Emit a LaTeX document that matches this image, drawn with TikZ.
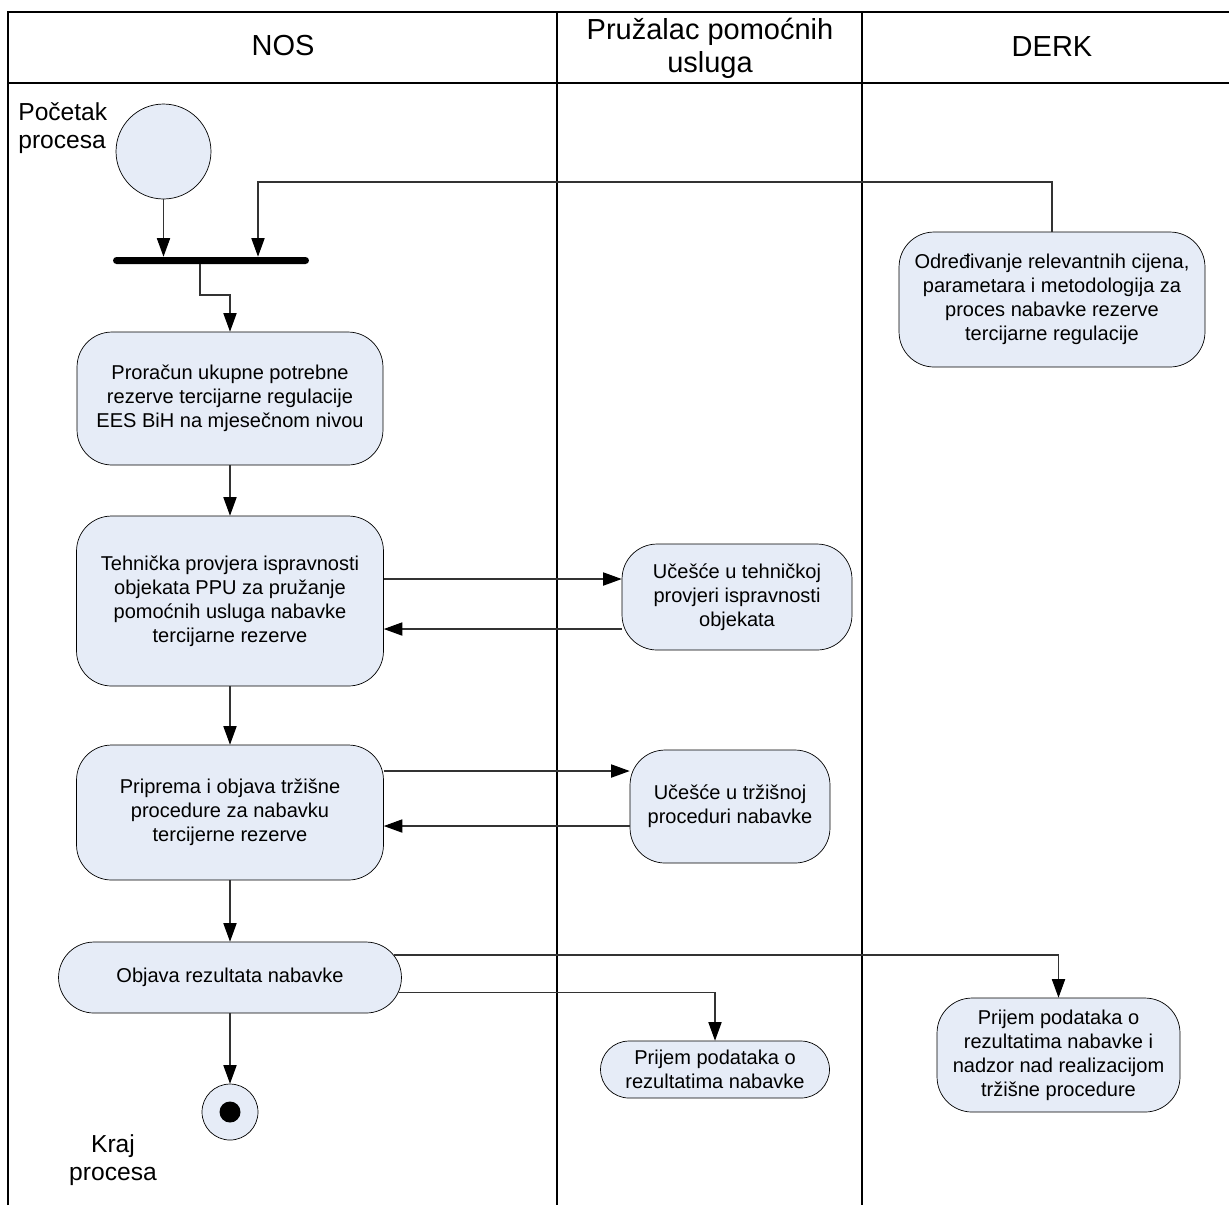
\documentclass[tikz,border=0pt]{standalone}
\usepackage{fontspec}
\setmainfont{Liberation Sans}
\usepackage{xcolor}
\usetikzlibrary{arrows.meta,calc}

\definecolor{actblue}{RGB}{230,236,247}

\begin{document}
\begin{tikzpicture}[x=0.02cm, y=-0.02cm,
  lane/.style={line width=1.6pt},
  act/.style={draw, fill=actblue, rounded corners=0.7cm, align=center, inner sep=0pt, font=\fontsize{11.4}{13.6}\selectfont},
  flow/.style={draw=black!80, line width=0.6pt, -{Triangle[length=10.5pt,width=7.5pt,color=black]}},
  head/.style={align=center, font=\fontsize{16.5}{18.7}\selectfont},
  lbl/.style={align=center, inner sep=0pt, font=\fontsize{14}{16.2}\selectfont}]

\useasboundingbox (0,0) rectangle (1229,1205);

% swimlanes
\draw[lane] (8,1205) -- (8,12) -- (1229,12);
\draw[lane] (8,83) -- (1229,83);
\draw[lane] (557,12) -- (557,1205);
\draw[lane] (862,12) -- (862,1205);

\node[head] (nos) at (283,46) {NOS};
\node[head] (ppu) at (710,48) {Pružalac pomoćnih\\usluga};
\node[head] (derkh) at (1052,47) {DERK};

% start, fork, end
\node[draw, circle, fill=actblue, minimum size=1.9cm, inner sep=0pt] (start) at (163.5,151.5) {};
\node[lbl, anchor=west, align=left] (startlbl) at (18,128) {Početak\\procesa};
\node[fill=black, rounded corners=0.07cm, minimum width=3.92cm, minimum height=0.14cm, inner sep=0pt] (fork) at (211,260.5) {};
\node[draw, circle, fill=actblue, minimum size=1.12cm, inner sep=0pt] (stop) at (230,1112) {};
\node[circle, fill=black, minimum size=0.42cm, inner sep=0pt] (stopdot) at (stop) {};
\node[lbl] (stoplbl) at (113,1160) {Kraj\\procesa};

% NOS
\node[act, minimum width=6.12cm, minimum height=2.66cm] (box1) at (230,398.5) {Proračun ukupne potrebne\\rezerve tercijarne regulacije\\EES BiH na mjesečnom nivou};
\node[act, minimum width=6.14cm, minimum height=3.4cm] (box2) at (230,601) {Tehnička provjera ispravnosti\\objekata PPU za pružanje\\pomoćnih usluga nabavke\\tercijarne rezerve};
\node[act, minimum width=6.14cm, minimum height=2.7cm] (box3) at (230,812.5) {Priprema i objava tržišne\\procedure za nabavku\\tercijerne rezerve};
\node[act, minimum width=6.86cm, minimum height=1.42cm, rounded corners=0.71cm] (box4) at (230,977.5) {Objava rezultata nabavke};

% Pruzalac pomocnih usluga
\node[act, minimum width=4.6cm, minimum height=2.12cm] (box5) at (737,597) {Učešće u tehničkoj\\provjeri ispravnosti\\objekata};
\node[act, minimum width=4.0cm, minimum height=2.26cm] (box6) at (730,806.5) {Učešće u tržišnoj\\proceduri nabavke};
\node[act, minimum width=4.58cm, minimum height=1.14cm, rounded corners=0.57cm] (box7) at (715,1069.5) {Prijem podataka o\\rezultatima nabavke};

% DERK
\node[act, minimum width=6.12cm, minimum height=2.7cm] (derk) at (1052,299.5) {Određivanje relevantnih cijena,\\parametara i metodologija za\\proces nabavke rezerve\\tercijarne regulacije};
\node[act, minimum width=4.86cm, minimum height=2.28cm] (box8) at (1058.5,1055) {Prijem podataka o\\rezultatima nabavke i\\nadzor nad realizacijom\\tržišne procedure};

% connectors
\coordinate (j0) at (200,0);
\coordinate (j1) at (258,182);
\coordinate (j2) at (230,295);
\draw[flow] (start.south) -- (start.south |- fork.north);
\draw[flow] (derk.north) |- (j1) -- (fork.north -| j1);
\draw[flow] (fork.south -| j0) |- (j2) -- (box1.north);
\draw[flow] (box1) -- (box2);
\draw[flow] (box2) -- (box3);
\draw[flow] (box3) -- (box4);
\draw[flow] (box4) -- (stop);

\coordinate (r1) at (0,579);
\coordinate (r2) at (0,629);
\coordinate (r3) at (0,771);
\coordinate (r4) at (0,826);
\coordinate (r5) at (0,955);
\coordinate (r6) at (0,992);
\draw[flow] (box2.east |- r1) -- (box5.west |- r1);
\draw[flow] (box5.west |- r2) -- (box2.east |- r2);
\draw[flow] (box3.east |- r3) -- (box6.west |- r3);
\draw[flow] (box6.west |- r4) -- (box3.east |- r4);
\draw[flow] ($(box4.east |- r5)+(-8,0)$) -| (box8.north);
\draw[flow] ($(box4.east |- r6)+(-3,0)$) -| (box7.north);

\end{tikzpicture}
\end{document}
